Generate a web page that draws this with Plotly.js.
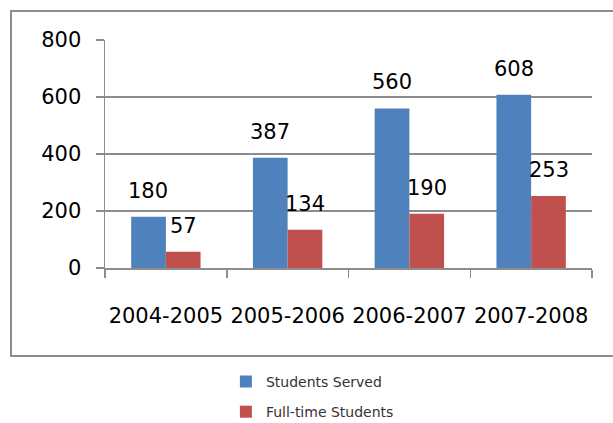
<!DOCTYPE html>
<html>
<head>
<meta charset="utf-8">
<script src="https://cdn.plot.ly/plotly-3.0.1.min.js"></script>
<style>html,body{margin:0;padding:0;background:#fff;}#chart{width:613px;height:423px;}</style>
</head>
<body>
<div id="chart"></div>
<script>
const categories = ["2004-2005", "2005-2006", "2006-2007", "2007-2008"];
const studentsServed = [180, 387, 560, 608];
const fullTimeStudents = [57, 134, 190, 253];
const seriesNames = ["Students Served", "Full-time Students"];
const yTicks = [0, 200, 400, 600, 800];

const FONT = "DejaVu Sans, sans-serif";
const BLUE = "#4F81BD", RED = "#C0504D", GRID = "#8c8c8c";

const traces = [
  {type: "bar", name: seriesNames[0], x: categories, y: studentsServed,
   marker: {color: BLUE, line: {width: 0}}, legendgroup: "a"},
  {type: "bar", name: seriesNames[1], x: categories, y: fullTimeStudents,
   marker: {color: RED, line: {width: 0}}, legendgroup: "b"}
];

const annotations = [];
[studentsServed, fullTimeStudents].forEach((vals, s) => {
  vals.forEach((v, i) => {
    annotations.push({x: categories[i], y: v, xref: "x", yref: "y",
      text: String(v), showarrow: false, yanchor: "bottom",
      xshift: s === 0 ? -17.5 : 17.5, yshift: 12,
      font: {family: FONT, size: 21, color: "#000"}});
  });
});

const layout = {
  width: 613, height: 423,
  margin: {l: 105, r: 21, t: 40, b: 155, autoexpand: false},
  paper_bgcolor: "#fff", plot_bgcolor: "#fff",
  barmode: "group", bargap: 0.43, bargroupgap: 0,
  font: {family: FONT, color: "#000"},
  xaxis: {type: "category", showgrid: false, showline: true, linecolor: GRID, linewidth: 1.5,
    ticks: "outside", tickson: "boundaries", ticklen: 8, tickcolor: GRID, tickwidth: 1.5,
    tickangle: 0, tickfont: {family: FONT, size: 21, color: "#000"}, ticklabelstandoff: 28, automargin: false},
  yaxis: {range: [0, 800], tickvals: yTicks, showgrid: true, gridcolor: GRID, gridwidth: 1.5,
    showline: true, linecolor: GRID, linewidth: 1.5, zeroline: false,
    ticks: "outside", ticklen: 8, tickcolor: GRID, tickwidth: 1.5, automargin: false,
    tickfont: {family: FONT, size: 21, color: "#000"}, ticklabelstandoff: 10},
  showlegend: true,
  legend: {orientation: "v", xref: "container", yref: "container",
    x: 0.3685, xanchor: "left", y: 0.135, yanchor: "top",
    font: {family: FONT, size: 14, color: "#333333"}, tracegroupgap: 9,
    traceorder: "grouped", bgcolor: "rgba(0,0,0,0)"},
  annotations: annotations,
  shapes: [{type: "rect", xref: "paper", yref: "paper",
    x0: -0.193, x1: 1.08, y0: -0.386, y1: 1.127,
    line: {color: "#8c8c8c", width: 2}, fillcolor: "rgba(0,0,0,0)", layer: "below"}]
};

Plotly.newPlot("chart", traces, layout, {displayModeBar: false, staticPlot: true});
</script>
</body>
</html>
